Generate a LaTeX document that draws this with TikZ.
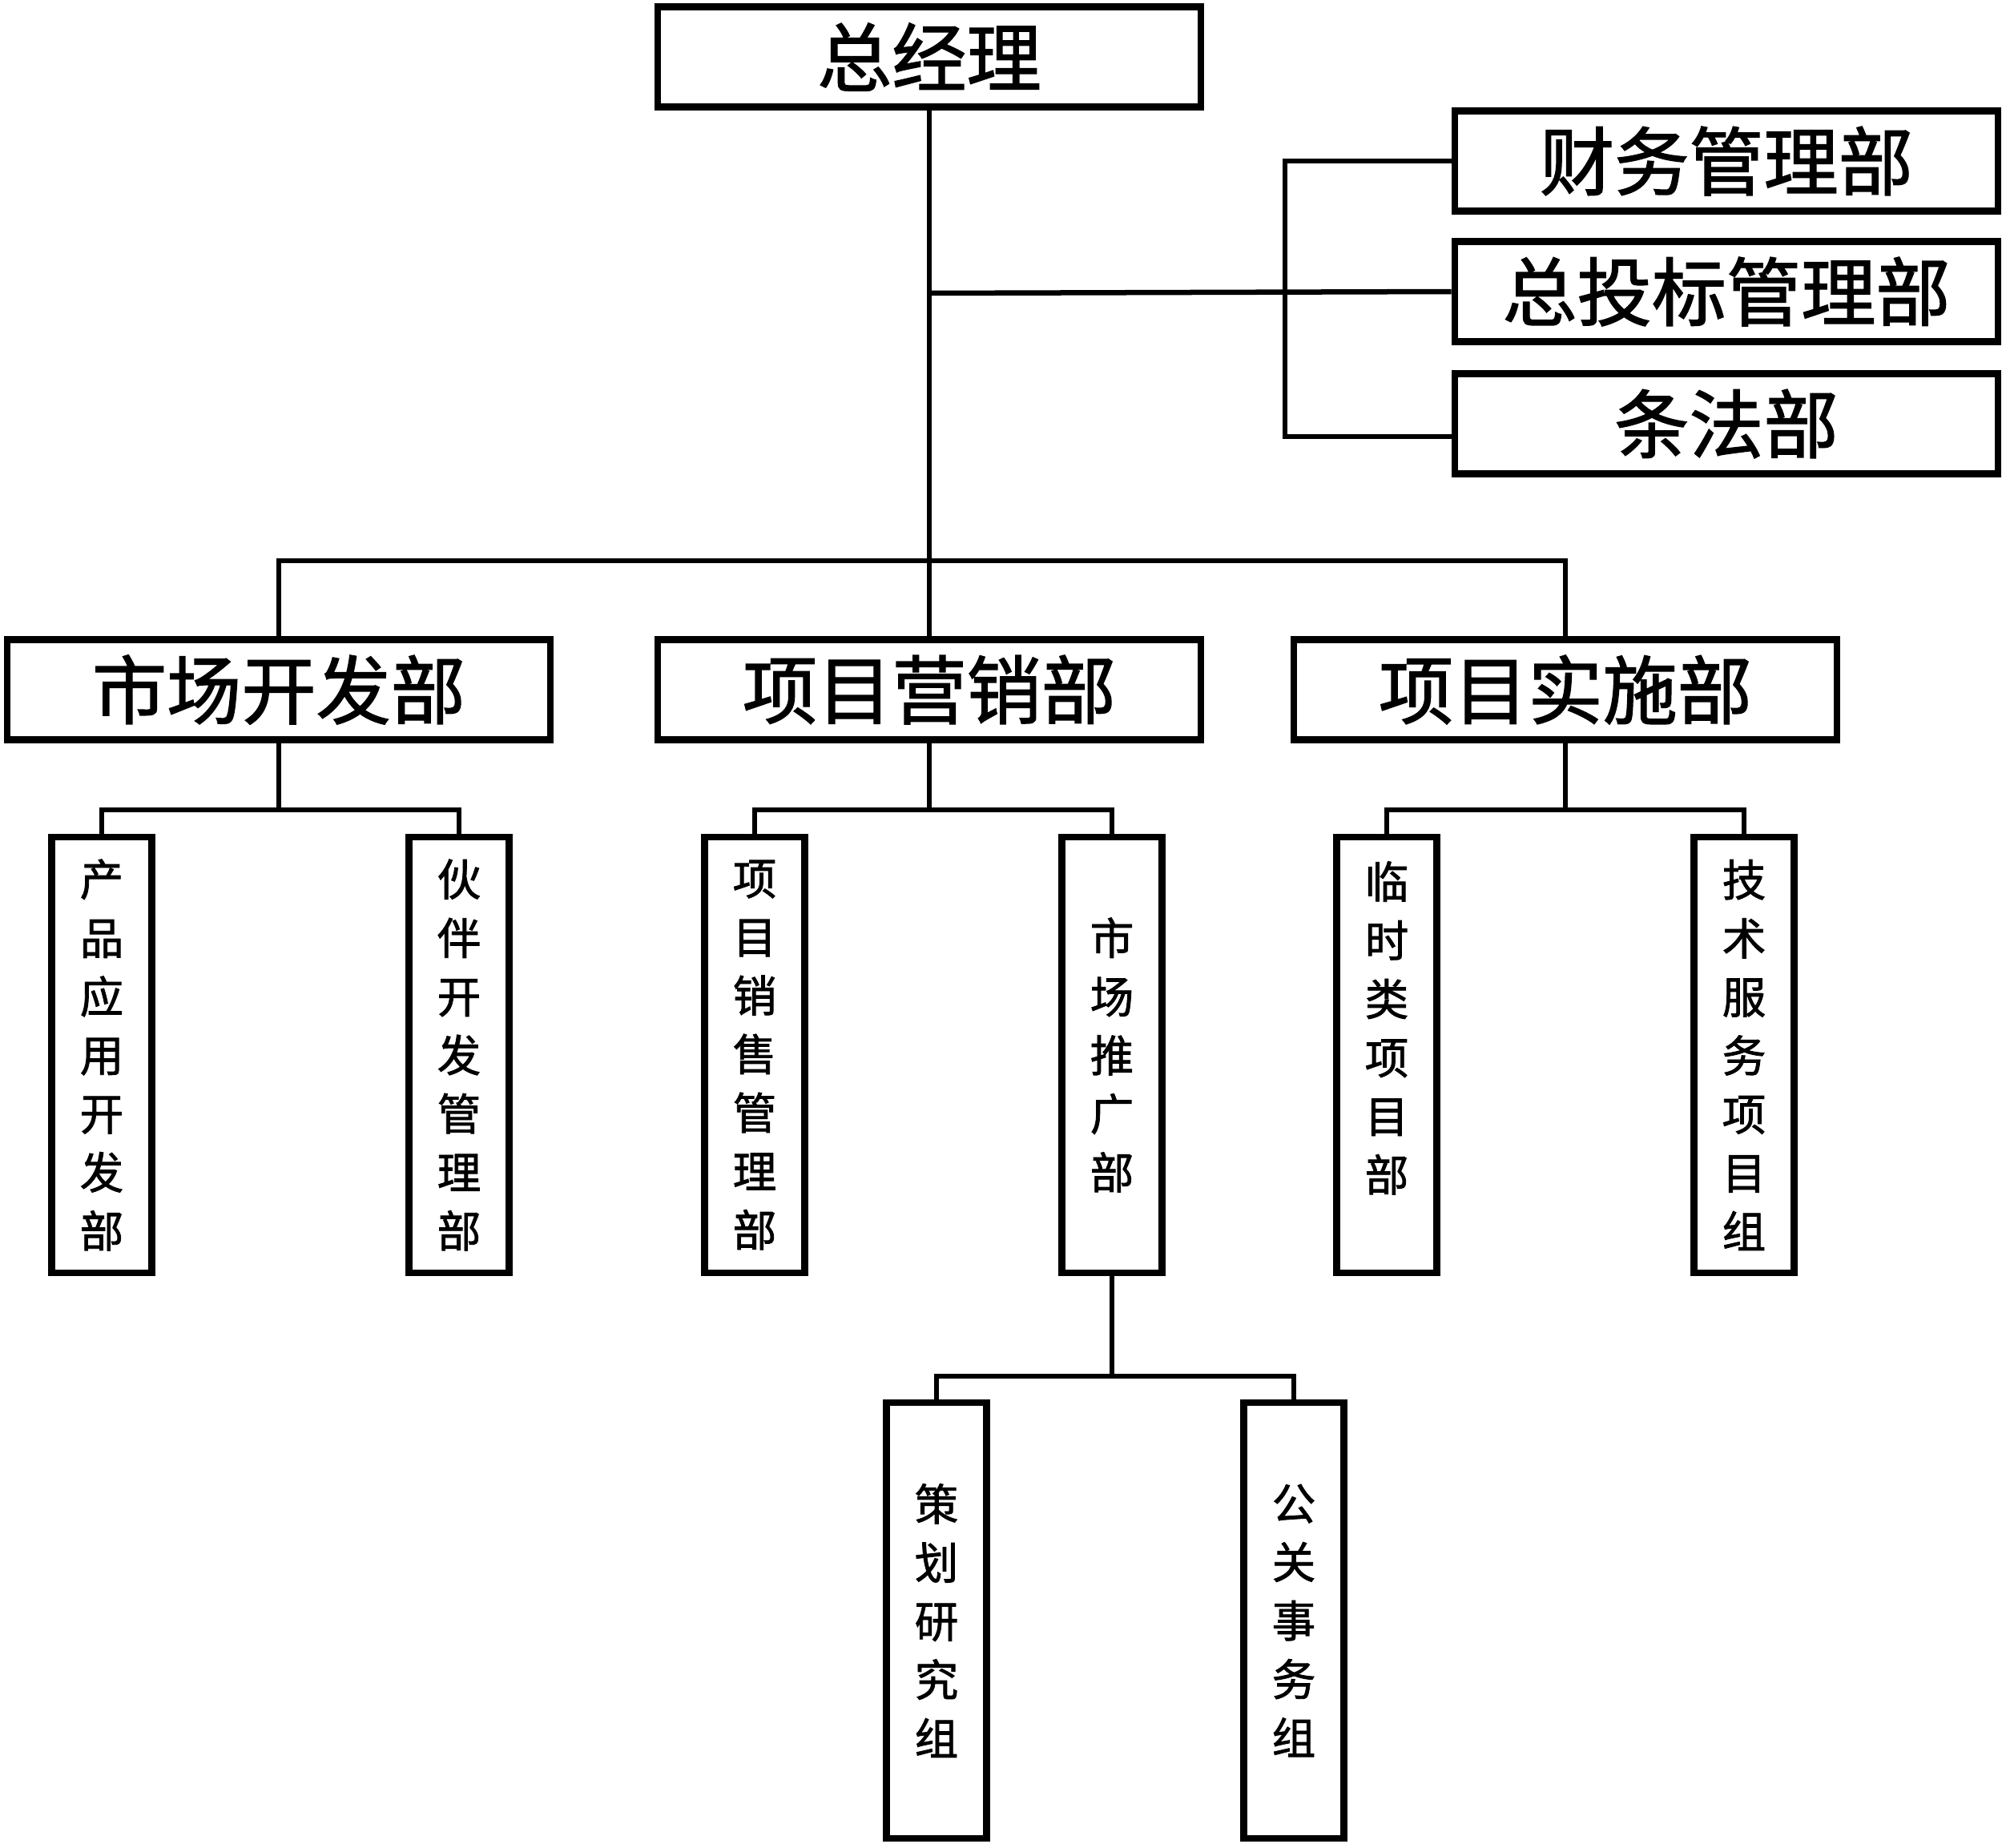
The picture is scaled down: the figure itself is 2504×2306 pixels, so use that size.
\documentclass[tikz,border=0pt]{standalone}
\usepackage{fontspec}
\setmainfont{Noto Sans CJK SC}[FakeBold=1.5]
\begin{document}
\begin{tikzpicture}[x=0.01cm,y=-0.01cm,
  hbox/.style={draw, line width=0.085cm, rectangle, inner sep=0pt, minimum width=6.78cm, minimum height=1.25cm, font=\fontsize{26.5pt}{30pt}\selectfont},
  vbox/.style={draw, line width=0.085cm, rectangle, inner sep=0pt, minimum width=1.25cm, minimum height=5.44cm},
  vtext/.style={align=center, inner sep=0pt, font=\fontsize{15.5pt}{20.8pt}\selectfont},
  conn/.style={line width=0.065cm}]
\useasboundingbox (0,0) rectangle (2504,2306);
% top
\node[hbox] (zjl) at (1160,71) {总经理};
\node[hbox] (cw) at (2155,201) {财务管理部};
\node[hbox] (tb) at (2155,364) {总投标管理部};
\node[hbox] (tf) at (2155,529) {条法部};
% second row
\node[hbox] (sc) at (348,861) {市场开发部};
\node[hbox] (yx) at (1160,861) {项目营销部};
\node[hbox] (ss) at (1954,861) {项目实施部};
% vertical boxes
\node[vbox] (cp) at (127,1317) {};
\node[vtext] at (cp) {产\\品\\应\\用\\开\\发\\部};
\node[vbox] (hb) at (573,1317) {};
\node[vtext] at (hb) {伙\\伴\\开\\发\\管\\理\\部};
\node[vbox] (xs) at (942,1317) {};
\node[vtext] at (xs) {项\\目\\销\\售\\管\\理\\部};
\node[vbox] (tg) at (1388,1317) {};
\node[vtext] at (tg) {市\\场\\推\\广\\部};
\node[vbox] (ls) at (1731,1317) {};
\node[vtext, anchor=north] at ([yshift=-0.34cm]ls.north) {临\\时\\类\\项\\目\\部};
\node[vbox] (js) at (2177,1317) {};
\node[vtext] at (js) {技\\术\\服\\务\\项\\目\\组};
% bottom
\node[vbox] (ch) at (1169,2023) {};
\node[vtext] at (ch) {策\\划\\研\\究\\组};
\node[vbox] (gg) at (1615,2023) {};
\node[vtext] at (gg) {公\\关\\事\\务\\组};
% coordinates
\coordinate (br) at (0,366);
\coordinate (brk) at (1604,0);
\coordinate (bus) at (0,700);
\coordinate (s1) at (0,1011);
\coordinate (s2) at (0,1718);
% connectors
\draw[conn] (zjl.south) -- (yx.north);
\draw[conn] (zjl.south |- br) -- (tb.west);
\draw[conn] (cw.west) -- (cw.west -| brk) -- ([yshift=-0.16cm]tf.west -| brk) -- ([yshift=-0.16cm]tf.west);
\draw[conn] (sc.north) -- (sc.north |- bus) -- (ss.north |- bus) -- (ss.north);
\draw[conn] (sc.south) -- (sc.south |- s1);
\draw[conn] (cp.north) -- (cp.north |- s1) -- (hb.north |- s1) -- (hb.north);
\draw[conn] (yx.south) -- (yx.south |- s1);
\draw[conn] (xs.north) -- (xs.north |- s1) -- (tg.north |- s1) -- (tg.north);
\draw[conn] (ss.south) -- (ss.south |- s1);
\draw[conn] (ls.north) -- (ls.north |- s1) -- (js.north |- s1) -- (js.north);
\draw[conn] (tg.south) -- (tg.south |- s2);
\draw[conn] (ch.north) -- (ch.north |- s2) -- (gg.north |- s2) -- (gg.north);
\end{tikzpicture}
\end{document}
